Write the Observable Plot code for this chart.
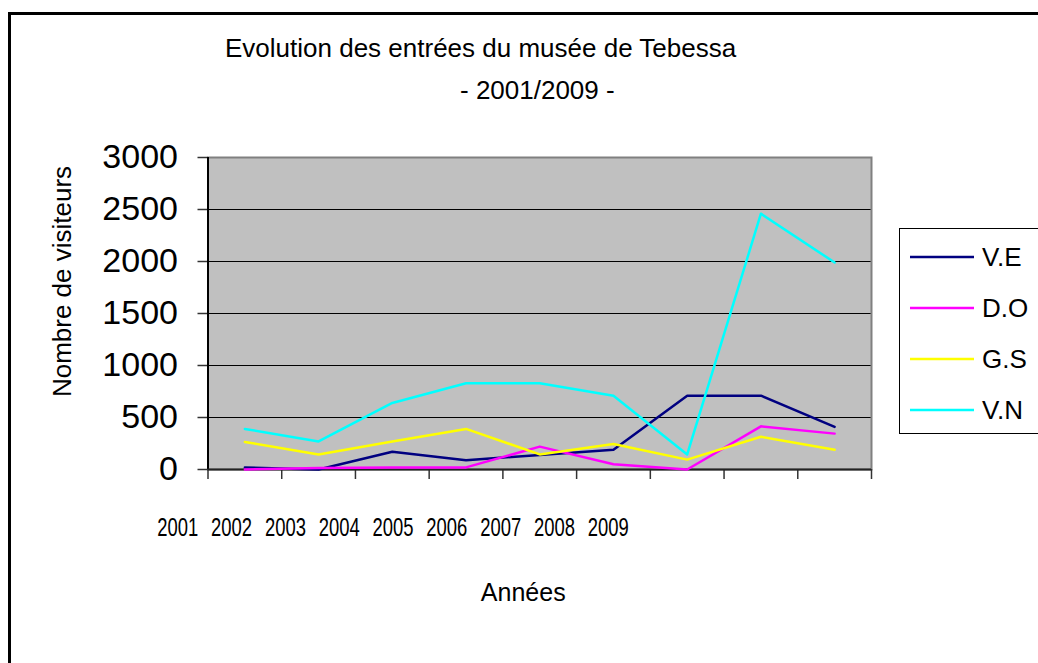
<!DOCTYPE html>
<html>
<head>
<meta charset="utf-8">
<script src="https://cdn.jsdelivr.net/npm/d3@7"></script>
<script src="https://cdn.jsdelivr.net/npm/@observablehq/plot@0.6"></script>
<style>
  html, body { margin: 0; padding: 0; background: white; }
  #wrap { position: relative; width: 1038px; height: 663px; overflow: hidden; background: white;
          font-family: "Liberation Sans", Arial, sans-serif; color: black; }
  #wrap svg { display: block; }
  .abs { position: absolute; white-space: nowrap; line-height: 1; }
  #border { position: absolute; left: 8px; top: 12px; width: 2000px; height: 2000px;
            border-left: 3px solid black; border-top: 3px solid black; box-sizing: border-box; }
</style>
</head>
<body>
<div id="wrap">
  <div id="border"></div>
  <div class="abs" style="left:225px; top:35px; font-size:26px;">Evolution des entrées du musée de Tebessa</div>
  <div class="abs" style="left:460px; top:77px; font-size:26px;">- 2001/2009 -</div>
  <div id="chart" style="position:absolute; left:0; top:0;"></div>
  <div id="legend" style="position:absolute; left:899px; top:228px;"></div>
</div>
<script>
// ---- data ----
const years = ["2001", "2002", "2003", "2004", "2005", "2006", "2007", "2008", "2009"];
const seriesNames = ["V.E", "D.O", "G.S", "V.N"];
const seriesColors = ["#000080", "#FF00FF", "#FFFF00", "#00FFFF"];
const VE = [20, 0, 170, 90, 140, 190, 710, 710, 410];
const DO = [0, 15, 20, 20, 220, 50, 0, 415, 345];
const GS = [265, 145, 270, 390, 145, 245, 95, 315, 190];
const VN = [390, 270, 640, 830, 830, 710, 145, 2460, 1990];
const yTicks = [0, 500, 1000, 1500, 2000, 2500, 3000];

const seriesValues = [VE, DO, GS, VN];
const rows = [];
seriesNames.forEach((s, k) => {
  seriesValues[k].forEach((v, i) => rows.push({serie: s, idx: i + 0.5, year: years[i], value: v}));
});

// category label row of the original (sits offset under the axis)
const labelRows = years.map((y, i) => ({year: y, pos: -0.41 + i * 0.73}));

const chart = Plot.plot({
  width: 1038,
  height: 663,
  marginLeft: 207.5,
  marginRight: 167,
  marginTop: 157,
  marginBottom: 194,
  style: {fontFamily: "'Liberation Sans', Arial, sans-serif", color: "black", background: "transparent", overflow: "visible"},
  x: {domain: [0, 9], axis: null},
  y: {domain: [0, 3000], axis: null},
  color: {domain: seriesNames, range: seriesColors},
  marks: [
    Plot.frame({fill: "#C0C0C0"}),
    Plot.gridY(yTicks.filter(d => d > 0 && d < 3000), {stroke: "black", strokeOpacity: 1, strokeWidth: 1}),
    Plot.frame({stroke: "#808080", strokeWidth: 2}),
    Plot.axisY(yTicks, {tickSize: 10, tickPadding: 20, fontSize: 34, tickFormat: d => String(d), label: null, stroke: "#333", strokeWidth: 1.5}),
    Plot.axisX(d3.range(10), {tickSize: 10, tickFormat: () => "", label: null, stroke: "#333", strokeWidth: 1.5}),
    Plot.ruleX([0], {stroke: "black", strokeWidth: 2}),
    Plot.ruleY([0], {stroke: "#222", strokeWidth: 2}),
    Plot.line(rows, {x: "idx", y: "value", z: "serie", stroke: "serie", strokeWidth: 2.5}),
    Plot.text(labelRows, {x: "pos", y: 0, text: "year", dy: 58, fontSize: 25, lineAnchor: "middle",
      fill: "black", className: "yearlbl"}),
    Plot.text(["Années"], {frameAnchor: "bottom", textAnchor: "middle", lineAnchor: "middle", dx: -16.5, dy: 123, fontSize: 25, fill: "black"}),
    Plot.text(["Nombre de visiteurs"], {frameAnchor: "left", textAnchor: "middle", lineAnchor: "middle", rotate: -90, dx: -145.5, dy: -32, fontSize: 26, fill: "black"})
  ]
});
// the original's year labels are set in a condensed face
d3.select(chart).selectAll(".yearlbl text")
  .attr("textLength", 41).attr("lengthAdjust", "spacingAndGlyphs");
document.getElementById("chart").appendChild(chart);

// ---- legend ----
const lg = d3.select("#legend").append("svg")
  .attr("width", 160).attr("height", 206)
  .style("font-family", "'Liberation Sans', Arial, sans-serif");
lg.append("rect").attr("x", 0.5).attr("y", 0.5).attr("width", 200).attr("height", 205)
  .attr("fill", "white").attr("stroke", "black");
seriesNames.forEach((s, i) => {
  const cy = 29 + i * 51;
  lg.append("line").attr("x1", 11).attr("x2", 75).attr("y1", cy).attr("y2", cy)
    .attr("stroke", seriesColors[i]).attr("stroke-width", 2.5);
  lg.append("text").attr("x", 83).attr("y", cy).attr("dy", "0.35em")
    .attr("font-size", 26).attr("fill", "black").text(s);
});
</script>
</body>
</html>
